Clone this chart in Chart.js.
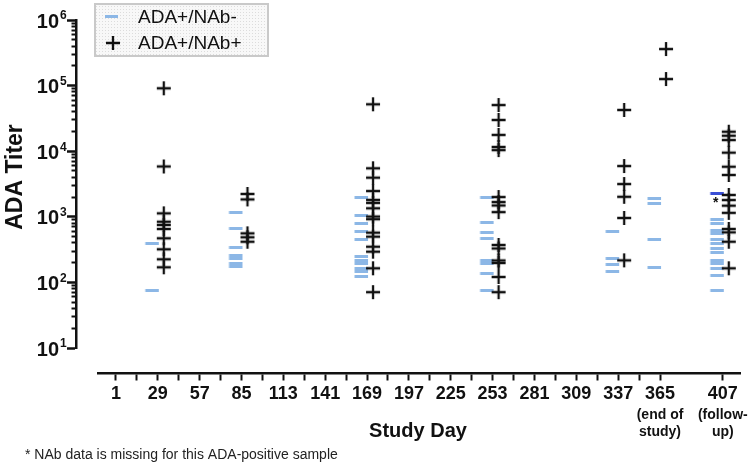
<!DOCTYPE html>
<html>
<head>
<meta charset="utf-8">
<script src="https://cdn.jsdelivr.net/npm/chart.js@4.4.1/dist/chart.umd.min.js"></script>
<style>
  html, body { margin: 0; padding: 0; background: #fff; }
  #chart { display: block; }
</style>
</head>
<body>
<canvas id="chart" width="750" height="476"></canvas>
<script>
const FONT = '"Liberation Sans", Arial, sans-serif';

// ── Data ──
const studyDays = [29, 85, 169, 253, 337, 365, 407];

// ADA+/NAb- titers, one list per study day
const nabNegTiters = [
  [385, 74],
  [1170, 652, 338, 257, 235, 191, 175],
  [1980, 1054, 777, 587, 443, 247, 219, 195, 164, 146, 125],
  [1980, 813, 573, 464, 216, 191, 137, 74],
  [607, 229, 188, 147],
  [1900, 1610, 454, 170],
  [925, 777, 614, 560, 443, 394, 331, 288, 219, 195, 164, 127, 74]
];

// ADA+/NAb+ titers, one list per study day
const nabPosTiters = [
  [91000, 5850, 1130, 842, 750, 652, 470, 320, 225, 170],
  [2230, 1840, 560, 487, 417],
  [51900, 5490, 3950, 2470, 1810, 1630, 1350, 1010, 920, 573, 498, 350, 294, 164, 71],
  [50600, 29900, 17700, 11600, 10400, 2000, 1680, 1490, 1180, 372, 329, 216, 198, 121, 71],
  [42500, 5940, 3160, 2020, 960, 217],
  [361000, 126000],
  [19800, 17200, 14800, 9500, 5800, 4340, 2150, 1800, 1480, 1150, 652, 580, 417, 164]
];

// ADA-positive sample without NAb result
const missingNabDay = [407];
const missingNabTiter = [2230];

const tickDays = [1, 15, 29, 43, 57, 71, 85, 99, 113, 127, 141, 155, 169, 183, 197,
  211, 225, 239, 253, 267, 281, 295, 309, 323, 337, 351, 365, 407];
const labelDays = [1, 29, 57, 85, 113, 141, 169, 197, 225, 253, 281, 309, 337, 365, 407];
const dayNotes = { 365: ["(end of", "study)"], 407: ["(follow-", "up)"] };
const yMajor = [10, 100, 1000, 10000, 100000, 1000000];

const toPoints = (lists) =>
  lists.flatMap((vals, i) => vals.map(v => ({ x: studyDays[i], y: v })));

// ── Marker images (drawn beside the day tick like the original) ──
function dashMarker(color) {
  const c = document.createElement("canvas");
  c.width = 32; c.height = 3;
  const g = c.getContext("2d");
  g.fillStyle = color;
  g.fillRect(3.5, 0, 13.5, 3);
  return c;
}

function plusMarker() {
  const c = document.createElement("canvas");
  c.width = 32; c.height = 16;
  const g = c.getContext("2d");
  g.strokeStyle = "#111";
  g.lineWidth = 2.3;
  g.beginPath();
  g.moveTo(15, 8); g.lineTo(29, 8);
  g.moveTo(22, 1); g.lineTo(22, 15);
  g.stroke();
  return c;
}

const lightDash = dashMarker("#8cb7e6");
const darkDash = dashMarker("#3a4fd6");
const plus = plusMarker();

// ── Decorations: tick labels with exponents, titles, legend, notes ──
const decor = {
  id: "decor",
  afterDraw(chart) {
    const { ctx, scales: { x, y } } = chart;
    ctx.save();
    ctx.fillStyle = "#111";

    // y tick labels 10^n
    yMajor.forEach(v => {
      const py = y.getPixelForValue(v);
      ctx.font = `bold 20px ${FONT}`;
      ctx.textAlign = "right";
      ctx.textBaseline = "middle";
      ctx.fillText("10", 59, py + 2);
      ctx.font = `bold 12px ${FONT}`;
      ctx.textAlign = "left";
      ctx.fillText(String(Math.round(Math.log10(v))), 60, py - 4);
    });

    // notes under day 365 / 407
    ctx.font = `bold 14px ${FONT}`;
    ctx.textAlign = "center";
    Object.entries(dayNotes).forEach(([d, lines]) => {
      const px = x.getPixelForValue(+d);
      lines.forEach((t, i) => ctx.fillText(t, px, 415 + i * 17));
    });

    // axis titles
    ctx.font = `bold 20px ${FONT}`;
    ctx.fillText("Study Day", 418, 431);
    ctx.save();
    ctx.translate(16, 177);
    ctx.rotate(-Math.PI / 2);
    ctx.font = `bold 23px ${FONT}`;
    ctx.fillText("ADA Titer", 0, 0);
    ctx.restore();

    // asterisk beside missing-NAb sample
    const ax = x.getPixelForValue(missingNabDay[0]) - 7;
    const ay = y.getPixelForValue(missingNabTiter[0]) + 9;
    ctx.font = `bold 14px ${FONT}`;
    ctx.fillText("*", ax, ay);

    // footnote
    ctx.font = `14px ${FONT}`;
    ctx.textAlign = "left";
    ctx.fillStyle = "#222";
    ctx.fillText("* NAb data is missing for this ADA-positive sample", 25, 455);

    // legend box
    const pat = document.createElement("canvas");
    pat.width = 3; pat.height = 3;
    const pg = pat.getContext("2d");
    pg.fillStyle = "#f8f8f8"; pg.fillRect(0, 0, 3, 3);
    pg.fillStyle = "#dcdcdc"; pg.fillRect(0, 0, 1, 1);
    ctx.fillStyle = ctx.createPattern(pat, "repeat");
    ctx.fillRect(95, 4, 173, 52);
    ctx.strokeStyle = "#c9c9c9";
    ctx.lineWidth = 2;
    ctx.strokeRect(95, 4, 173, 52);

    ctx.fillStyle = "#8cb7e6";
    ctx.fillRect(105, 15, 13, 3);
    ctx.strokeStyle = "#111";
    ctx.lineWidth = 2.3;
    ctx.beginPath();
    ctx.moveTo(106, 43); ctx.lineTo(120, 43);
    ctx.moveTo(113, 36); ctx.lineTo(113, 50);
    ctx.stroke();

    ctx.fillStyle = "#111";
    ctx.font = `19px ${FONT}`;
    ctx.textBaseline = "middle";
    ctx.fillText("ADA+/NAb-", 138, 18);
    ctx.fillText("ADA+/NAb+", 138, 44);
    ctx.restore();
  }
};

// ── Chart ──
const yMinor = [];
for (let k = 1; k <= 5; k++) for (let m = 2; m <= 9; m++) yMinor.push(m * Math.pow(10, k));

new Chart(document.getElementById("chart"), {
  type: "scatter",
  data: {
    datasets: [
      { label: "ADA+/NAb+", data: toPoints(nabPosTiters), pointStyle: plus, radius: 5 },
      { label: "ADA+/NAb-", data: toPoints(nabNegTiters), pointStyle: lightDash, radius: 5 },
      { label: "missing NAb", data: missingNabDay.map((d, i) => ({ x: d, y: missingNabTiter[i] })),
        pointStyle: darkDash, radius: 5 }
    ]
  },
  options: {
    responsive: false,
    animation: false,
    devicePixelRatio: 1,
    layout: { padding: { left: 98, top: 20, right: 10, bottom: 128 } },
    plugins: { legend: { display: false }, tooltip: { enabled: false } },
    scales: {
      x: {
        type: "linear",
        min: -11,
        max: 418.5,
        position: { y: 4.15 },
        afterFit: s => { s.height = 0; },
        afterBuildTicks: s => { s.ticks = tickDays.map(v => ({ value: v })); },
        border: { display: true, color: "#111", width: 2.5 },
        grid: { drawOnChartArea: false, tickLength: 6, tickWidth: 2, tickColor: "#111" },
        ticks: {
          autoSkip: false, maxRotation: 0, minRotation: 0, padding: 4,
          color: "#111", font: { family: FONT, size: 18, weight: "bold" },
          callback: v => labelDays.includes(v) ? String(v) : ""
        }
      },
      y: {
        type: "logarithmic",
        min: 10,
        max: 1000000,
        position: { x: -25.8 },
        afterFit: s => { s.width = 0; },
        afterBuildTicks: s => { s.ticks = yMajor.map(v => ({ value: v })); },
        border: { display: true, color: "#111", width: 2.5 },
        grid: { drawOnChartArea: false, tickLength: 8, tickWidth: 2.5, tickColor: "#111" },
        ticks: { display: false }
      },
      y2: {
        type: "logarithmic",
        min: 10,
        max: 1000000,
        position: { x: -25.8 },
        afterFit: s => { s.width = 0; },
        afterBuildTicks: s => { s.ticks = yMinor.map(v => ({ value: v })); },
        border: { display: false },
        grid: { drawOnChartArea: false, tickLength: 4.5, tickWidth: 2, tickColor: "#111" },
        ticks: { display: false }
      }
    }
  },
  plugins: [decor]
});
</script>
</body>
</html>
